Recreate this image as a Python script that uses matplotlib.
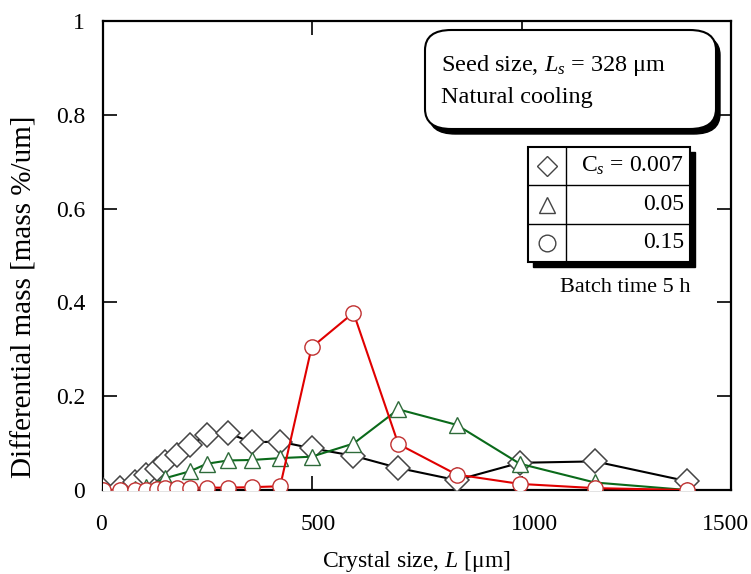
import matplotlib
matplotlib.use("Agg")
import matplotlib.pyplot as plt
import matplotlib.transforms as mtransforms
from matplotlib.patches import FancyBboxPatch, Rectangle
from matplotlib.lines import Line2D

plt.rcParams['font.family'] = ['Liberation Serif', 'DejaVu Serif']
plt.rcParams['mathtext.fontset'] = 'custom'
plt.rcParams['mathtext.rm'] = 'Liberation Serif'
plt.rcParams['mathtext.it'] = 'Liberation Serif:italic'

# crystal size grid [um]
size_grid = [0, 41, 77, 105, 129, 149, 177, 209, 249, 300, 356, 424,
             499, 599, 706, 845, 996, 1175, 1394]

# Cs = 0.007 (diamonds)
mass_cs0007 = [0.0, 0.005, 0.018, 0.032, 0.045, 0.060, 0.074, 0.096, 0.117,
               0.121, 0.102, 0.103, 0.089, 0.073, 0.047, 0.021, 0.058, 0.061, 0.019]

# Cs = 0.05 (triangles)
size_cs005 = [0, 41, 77, 105, 149, 209, 249, 300, 356, 424, 499, 599, 706,
              845, 996, 1175, 1394]
mass_cs005 = [0.0, 0.0, 0.002, 0.006, 0.025, 0.040, 0.056, 0.063, 0.064, 0.068,
              0.071, 0.099, 0.172, 0.139, 0.056, 0.016, 0.0]

# Cs = 0.15 (circles)
mass_cs015 = [0.0, 0.0, 0.0, 0.001, 0.002, 0.004, 0.004, 0.004, 0.005,
              0.005, 0.006, 0.008, 0.304, 0.378, 0.098, 0.033, 0.013, 0.004, 0.0]

x_ticks = [0, 500, 1000, 1500]
y_ticks = [0, 0.2, 0.4, 0.6, 0.8, 1]
y_ticklabels = ['0', '0.2', '0.4', '0.6', '0.8', '1']

W, H = 751, 574
fig = plt.figure(figsize=(W / 100, H / 100), dpi=100)
L, R, T, B = 102.5, 731, 21, 490
ax = fig.add_axes([L / W, 1 - B / H, (R - L) / W, (B - T) / H])

def fx(px):
    return px / W

def fy(py):
    return 1 - py / H

ax.plot(size_grid, mass_cs0007, color='black', lw=1.5, marker='D', ms=12,
        mfc='white', mec='#444444', mew=1.1, zorder=3)
ax.plot(size_cs005, mass_cs005, color='#0a6a1a', lw=1.5, marker='^', ms=12,
        mfc='white', mec='#2e6b3a', mew=1.0, zorder=4)
ax.plot(size_grid, mass_cs015, color='#e00000', lw=1.5, marker='o', ms=11,
        mfc='white', mec='#c03030', mew=1.0, zorder=5)

ax.set_xlim(0, 1500)
ax.set_ylim(0, 1)
ax.set_xticks(x_ticks)
ax.set_xticklabels([str(v) for v in x_ticks])
ax.set_yticks(y_ticks)
ax.set_yticklabels(y_ticklabels)
ax.tick_params(direction='in', length=10, width=1.2, top=True, right=True,
               labelsize=17)
ax.tick_params(axis='x', pad=17)
ax.tick_params(axis='y', pad=12.5)
for sp in ax.spines.values():
    sp.set_linewidth(1.6)

# small per-label horizontal offsets (pixels) as in the reference
x_label_shift = [-2, 6, 13, -6]
for lab, dx in zip(ax.get_xticklabels(), x_label_shift):
    lab.set_transform(lab.get_transform() +
                      mtransforms.ScaledTranslation(dx / 100, 0, fig.dpi_scale_trans))

ax.set_xlabel('Crystal size, $\\mathit{L}$ [\u03bcm]', fontsize=17, labelpad=10)
ax.set_ylabel('Differential mass [mass %/um]', fontsize=21)
ax.yaxis.set_label_coords((38 - L) / (R - L), (B - 297) / (B - T))

# Rounded annotation box with shadow
bx0, by0, bx1, by1 = 425, 30, 716, 129
shadow = FancyBboxPatch((fx(bx0 + 4), fy(by1 + 5)), fx(bx1 - bx0), (by1 - by0) / H,
                        boxstyle='round,pad=0,rounding_size=0.035',
                        transform=fig.transFigure, fc='black', ec='black', zorder=6)
box = FancyBboxPatch((fx(bx0), fy(by1)), fx(bx1 - bx0), (by1 - by0) / H,
                     boxstyle='round,pad=0,rounding_size=0.035',
                     transform=fig.transFigure, fc='white', ec='black', lw=1.5, zorder=7)
fig.patches.extend([shadow, box])
fig.text(fx(441), fy(66), 'Seed size, $\\mathit{L}_s$ = 328 \u03bcm', fontsize=17.5,
         va='center', ha='left', zorder=8)
fig.text(fx(441), fy(97), 'Natural cooling', fontsize=17.5, va='center', ha='left', zorder=8)

# Legend table with shadow
tx0, ty0, tx1, ty1 = 528, 147, 690, 262
colx = 566
fig.patches.append(Rectangle((fx(tx0 + 5), fy(ty1 + 5)), fx(tx1 - tx0), (ty1 - ty0) / H,
                             transform=fig.transFigure, fc='black', ec='black', zorder=6))
fig.patches.append(Rectangle((fx(tx0), fy(ty1)), fx(tx1 - tx0), (ty1 - ty0) / H,
                             transform=fig.transFigure, fc='white', ec='black', lw=1.5, zorder=7))
row_h = (ty1 - ty0) / 3
for i in (1, 2):
    yy = fy(ty0 + i * row_h)
    fig.lines.append(Line2D([fx(tx0), fx(tx1)], [yy, yy], transform=fig.transFigure,
                            color='black', lw=1, zorder=8))
fig.lines.append(Line2D([fx(colx), fx(colx)], [fy(ty0), fy(ty1)], transform=fig.transFigure,
                        color='black', lw=1, zorder=8))
legend_markers = ['D', '^', 'o']
legend_texts = ['C$_s$ = 0.007', '0.05', '0.15']
for i, (m, t) in enumerate(zip(legend_markers, legend_texts)):
    yc = fy(ty0 + (i + 0.5) * row_h)
    fig.lines.append(Line2D([fx((tx0 + colx) / 2)], [yc], transform=fig.transFigure,
                            marker=m, ms=12 if m != 'D' else 10.5, mfc='white',
                            mec='#444444', mew=1.0, ls='none', zorder=9))
    fig.text(fx(tx1 - 6), yc, t, fontsize=17, ha='right', va='center', zorder=9)

fig.text(fx(690), fy(288), 'Batch time 5 h', fontsize=16, ha='right', va='center')

fig.savefig('out.png', dpi=100)
